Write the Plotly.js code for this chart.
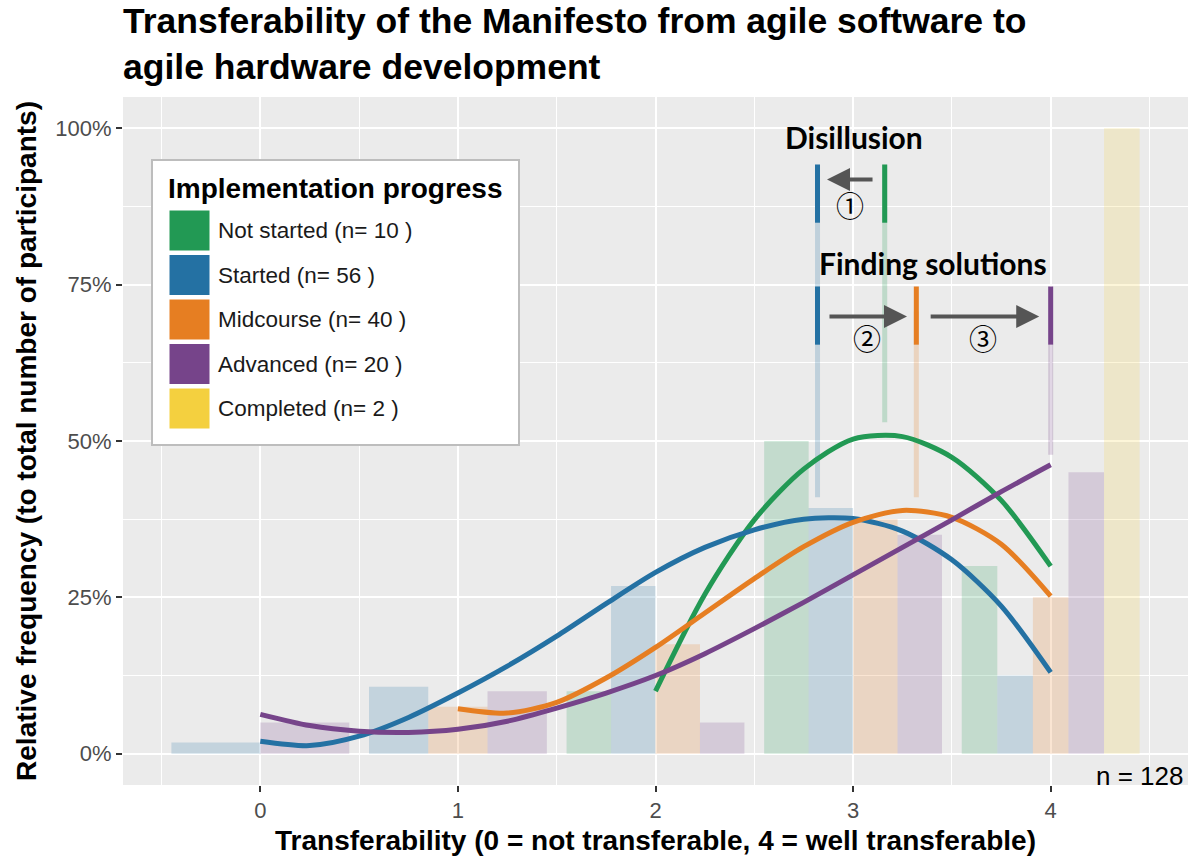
<!DOCTYPE html>
<html>
<head>
<meta charset="utf-8">
<script src="https://cdn.plot.ly/plotly-3.0.1.min.js"></script>
<style>
html, body { margin: 0; padding: 0; background: #ffffff; }
#chart { width: 1192px; height: 856px; }
</style>
</head>
<body>
<div id="chart"></div>
<script>
// ---------------- data ----------------
const xLevels = [0, 1, 2, 3, 4];
const tickLabelsX = ['0', '1', '2', '3', '4'];
const tickValsY = [0, 25, 50, 75, 100];
const tickLabelsY = ['0%', '25%', '50%', '75%', '100%'];

const groups = ['Not started', 'Started', 'Midcourse', 'Advanced', 'Completed'];
const groupN = [10, 56, 40, 20, 2];
const groupColors = ['#229954', '#2471A3', '#E67E22', '#76448A', '#F4D03F'];

// relative frequency (%) per transferability level, null = no answers
const pctNotStarted = [null, null, 10, 50, 30];
const pctStarted    = [1.8, 10.7, 26.8, 39.3, 12.5];
const pctMidcourse  = [null, 7.5, 17.5, 37.5, 25];
const pctAdvanced   = [5, 10, 5, 35, 45];
const pctCompleted  = [null, null, null, null, 100];

// smoothed trend curves
const smoothXNotStarted = [2, 2.25, 2.5, 2.75, 3, 3.25, 3.5, 3.75, 4];
const smoothNotStarted  = [10, 25.5, 37.4, 45.5, 50.3, 50.7, 47.4, 40.5, 30];
const smoothXStarted = [0, 0.25, 0.5, 0.75, 1, 1.25, 1.5, 1.75, 2, 2.25, 2.5, 2.75, 3, 3.25, 3.5, 3.75, 4];
const smoothStarted  = [2.0, 1.3, 2.8, 5.8, 9.7, 14.0, 18.8, 24.0, 29.0, 33.0, 35.8, 37.5, 37.6, 35.6, 31.0, 23.6, 13.0];
const smoothXMidcourse = [1, 1.25, 1.5, 1.75, 2, 2.25, 2.5, 2.75, 3, 3.25, 3.5, 3.75, 4];
const smoothMidcourse  = [7.2, 6.5, 8.2, 12.1, 17.0, 22.5, 28.0, 33.1, 37.0, 38.9, 37.8, 33.5, 25.2];
const smoothXAdvanced = [0, 0.25, 0.5, 0.75, 1, 1.25, 1.5, 1.75, 2, 2.25, 2.5, 2.75, 3, 3.25, 3.5, 3.75, 4];
const smoothAdvanced  = [6.3, 4.5, 3.6, 3.4, 3.9, 5.2, 7.3, 9.7, 12.5, 16.0, 20.0, 24.2, 28.6, 33.0, 37.4, 41.9, 46.2];

// peak markers of the curves
const peakGroups = ['Started', 'Not started', 'Midcourse', 'Advanced'];
const peakX = [2.82, 3.16, 3.32, 4.0];
const guideLow = [41, 53, 41, 47.8];
const guideHigh = [94.2, 94.2, 70.7, 65.4];
const disillusionGroups = ['Started', 'Not started'];
const disillusionBand = [84.9, 94.2];
const solutionsGroups = ['Started', 'Midcourse', 'Advanced'];
const solutionsBand = [65.4, 74.7];

const stageLabels = ['Disillusion', 'Finding solutions'];
const stepLabels = ['\u2460', '\u2461', '\u2462'];
const totalLabel = 'n = 128';

// ---------------- build traces ----------------
const pctByGroup = [pctNotStarted, pctStarted, pctMidcourse, pctAdvanced, pctCompleted];
const smoothByGroup = {
  'Not started': [smoothXNotStarted, smoothNotStarted],
  'Started': [smoothXStarted, smoothStarted],
  'Midcourse': [smoothXMidcourse, smoothMidcourse],
  'Advanced': [smoothXAdvanced, smoothAdvanced]
};
function colorOf(name) { return groupColors[groups.indexOf(name)]; }
function rgba(hex, a) {
  const r = parseInt(hex.slice(1, 3), 16), g = parseInt(hex.slice(3, 5), 16), b = parseInt(hex.slice(5, 7), 16);
  return 'rgba(' + r + ',' + g + ',' + b + ',' + a + ')';
}

const dodgeTotal = 0.9;
const traces = [];
// dodged bars, like ggplot position_dodge: only groups present at a level share its space
groups.forEach(function (g, gi) {
  const xs = [], ys = [], ws = [], offs = [];
  xLevels.forEach(function (lv, li) {
    const v = pctByGroup[gi][li];
    if (v === null) return;
    const present = pctByGroup.map(function (arr, k) { return arr[li] !== null ? k : -1; }).filter(function (k) { return k >= 0; });
    const w = dodgeTotal / present.length;
    const slot = present.indexOf(gi);
    xs.push(lv); ys.push(v); ws.push(w); offs.push(-dodgeTotal / 2 + slot * w);
  });
  traces.push({
    type: 'bar', x: xs, y: ys, width: ws, offset: offs, name: g, showlegend: false,
    marker: { color: rgba(groupColors[gi], 0.2), line: { width: 0 } },
    hoverinfo: 'x+y+name'
  });
});

// light guide lines from the peaks
peakGroups.forEach(function (g, i) {
  traces.push({
    type: 'scatter', mode: 'lines', x: [peakX[i], peakX[i]], y: [guideLow[i], guideHigh[i]],
    line: { color: rgba(colorOf(g), 0.22), width: 5 }, showlegend: false, hoverinfo: 'skip'
  });
});

// smoothed curves
Object.keys(smoothByGroup).forEach(function (g) {
  traces.push({
    type: 'scatter', mode: 'lines', x: smoothByGroup[g][0], y: smoothByGroup[g][1], name: g,
    line: { color: colorOf(g), width: 5, shape: 'spline', smoothing: 0.8 }, showlegend: false
  });
});

// dark stage markers
function stageMarker(g, band) {
  const i = peakGroups.indexOf(g);
  traces.push({
    type: 'scatter', mode: 'lines', x: [peakX[i], peakX[i]], y: band,
    line: { color: colorOf(g), width: 5 }, showlegend: false, hoverinfo: 'skip'
  });
}
disillusionGroups.forEach(function (g) { stageMarker(g, disillusionBand); });
solutionsGroups.forEach(function (g) { stageMarker(g, solutionsBand); });

// ---------------- layout helpers ----------------
const W = 1192, H = 856;
const M = { l: 123, r: 4, t: 97, b: 71 };
const PW = W - M.l - M.r, PH = H - M.t - M.b;
function px2paperX(px) { return (px - M.l) / PW; }
function px2paperY(py) { return (H - M.b - py) / PH; }

const shapes = [];
const annotations = [];

// stage labels
annotations.push({ x: 3.005, y: 98.6, xref: 'x', yref: 'y', text: stageLabels[0], showarrow: false,
  font: { family: 'Lato, Open Sans, sans-serif', size: 30, weight: 'bold', color: '#000000' } });
annotations.push({ x: 3.405, y: 78.5, xref: 'x', yref: 'y', text: stageLabels[1], showarrow: false,
  font: { family: 'Lato, Open Sans, sans-serif', size: 30, weight: 'bold', color: '#000000' } });

// arrows between stages
const arrowTail = [3.106, 2.873, 3.385];
const arrowHead = [2.868, 3.273, 3.942];
const arrowY = [91.8, 69.9, 69.9];
const stepPos = [[2.985, 87.7], [3.071, 66.5], [3.658, 66.5]];
arrowHead.forEach(function (hx, i) {
  annotations.push({ x: hx, y: arrowY[i], ax: arrowTail[i], ay: arrowY[i], xref: 'x', yref: 'y', axref: 'x', ayref: 'y',
    text: '', showarrow: true, arrowhead: 2, arrowsize: 1.15, arrowwidth: 4, arrowcolor: '#555555', standoff: 0, startstandoff: 0 });
  annotations.push({ x: stepPos[i][0], y: stepPos[i][1], xref: 'x', yref: 'y', text: stepLabels[i], showarrow: false,
    font: { family: 'Noto Sans CJK JP, DejaVu Sans, sans-serif', size: 28, color: '#000000' } });
});

// total n
annotations.push({ x: px2paperX(1185), y: px2paperY(776), xref: 'paper', yref: 'paper', xanchor: 'right', yanchor: 'middle',
  text: totalLabel, showarrow: false, font: { family: 'Liberation Sans, Arial, sans-serif', size: 26, color: '#000000' } });

// legend (drawn by hand to get ggplot-size keys)
shapes.push({ type: 'rect', xref: 'paper', yref: 'paper', x0: px2paperX(152), x1: px2paperX(519), y0: px2paperY(445), y1: px2paperY(160),
  fillcolor: '#ffffff', line: { color: '#BDBDBD', width: 2 }, layer: 'above' });
annotations.push({ x: px2paperX(166), y: px2paperY(188), xref: 'paper', yref: 'paper', xanchor: 'left', yanchor: 'middle',
  text: 'Implementation progress', showarrow: false,
  font: { family: 'Liberation Sans, Arial, sans-serif', size: 28, weight: 'bold', color: '#000000' } });
groups.forEach(function (g, i) {
  const top = 210 + i * 44.5;
  shapes.push({ type: 'rect', xref: 'paper', yref: 'paper', x0: px2paperX(169), x1: px2paperX(210), y0: px2paperY(top + 41), y1: px2paperY(top),
    fillcolor: groupColors[i], line: { color: '#ffffff', width: 1 }, layer: 'above' });
  annotations.push({ x: px2paperX(216), y: px2paperY(top + 20.5), xref: 'paper', yref: 'paper', xanchor: 'left', yanchor: 'middle',
    text: g + ' (n= ' + groupN[i] + ' )', showarrow: false,
    font: { family: 'Liberation Sans, Arial, sans-serif', size: 22.5, color: '#1A1A1A' } });
});

const layout = {
  width: W, height: H,
  margin: M,
  paper_bgcolor: '#ffffff',
  plot_bgcolor: '#EBEBEB',
  barmode: 'overlay',
  showlegend: false,
  font: { family: 'Liberation Sans, Arial, sans-serif', color: '#000000' },
  title: {
    text: 'Transferability of the Manifesto from agile software to<br>agile hardware development',
    x: 0, xref: 'paper', xanchor: 'left', y: 1 - 33 / H, yref: 'container', yanchor: 'top',
    font: { family: 'Liberation Sans, Arial, sans-serif', size: 35.5, weight: 'bold', color: '#000000' }
  },
  xaxis: {
    range: [-0.695, 4.695], tickvals: xLevels, ticktext: tickLabelsX,
    showgrid: true, gridcolor: '#ffffff', gridwidth: 2, zeroline: false, showline: false,
    minor: { tick0: 0.5, dtick: 1, showgrid: true, gridcolor: '#ffffff', gridwidth: 1, ticks: '' },
    ticks: 'outside', ticklen: 6, tickwidth: 2, tickcolor: '#333333',
    tickfont: { size: 22, color: '#4D4D4D', family: 'Liberation Sans, Arial, sans-serif' },
    title: { text: 'Transferability (0 = not transferable, 4 = well transferable)', standoff: 8,
      font: { size: 28, weight: 'bold', color: '#000000', family: 'Liberation Sans, Arial, sans-serif' } },
    fixedrange: true
  },
  yaxis: {
    range: [-5, 105], tickvals: tickValsY, ticktext: tickLabelsY,
    showgrid: true, gridcolor: '#ffffff', gridwidth: 2, zeroline: false, showline: false,
    minor: { tick0: 12.5, dtick: 25, showgrid: true, gridcolor: '#ffffff', gridwidth: 1, ticks: '' },
    ticks: 'outside', ticklen: 6, tickwidth: 2, tickcolor: '#333333',
    tickfont: { size: 22, color: '#4D4D4D', family: 'Liberation Sans, Arial, sans-serif' },
    title: { text: 'Relative frequency (to total number of participants)', standoff: 10,
      font: { size: 28, weight: 'bold', color: '#000000', family: 'Liberation Sans, Arial, sans-serif' } },
    fixedrange: true
  },
  shapes: shapes,
  annotations: annotations
};

Plotly.newPlot('chart', traces, layout, { displayModeBar: false, staticPlot: true });
</script>
</body>
</html>
